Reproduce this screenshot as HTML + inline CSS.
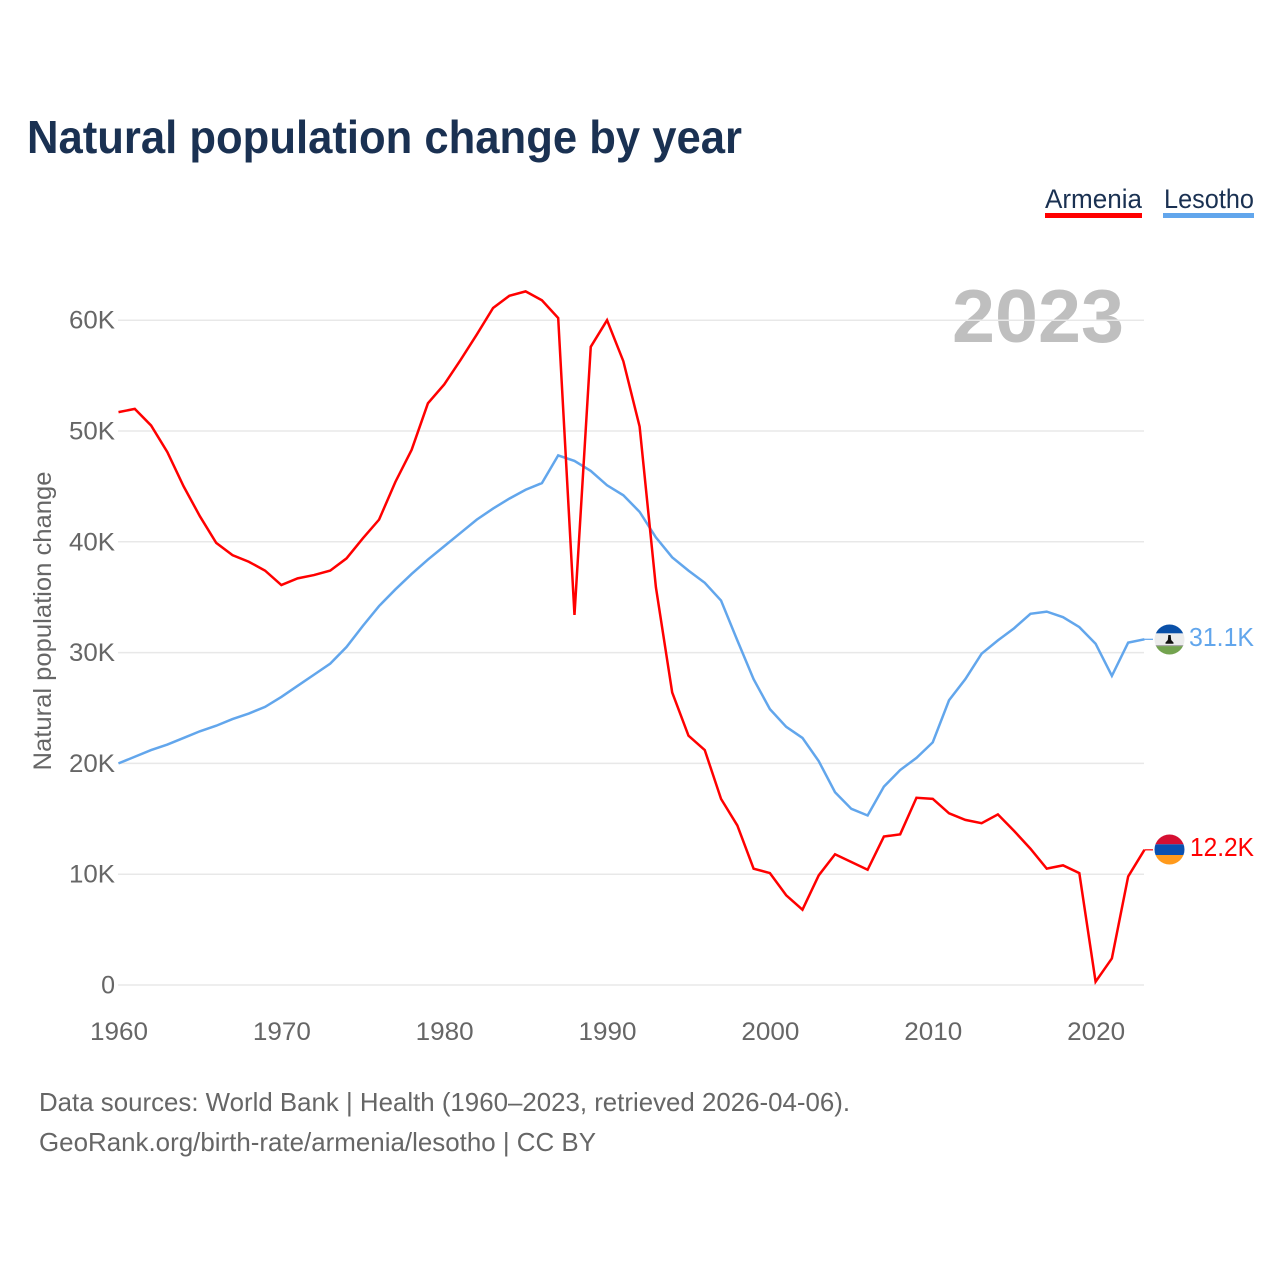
<!DOCTYPE html>
<html lang="en">
<head>
<meta charset="utf-8">
<title>Natural population change by year</title>
<style>
html,body{margin:0;padding:0;background:#fff;width:1280px;height:1280px;overflow:hidden}
svg{display:block;font-family:"Liberation Sans",sans-serif}
</style>
</head>
<body>
<svg id="chart" xmlns="http://www.w3.org/2000/svg" width="1280" height="1280" viewBox="0 0 1280 1280">
  <defs>
    <clipPath id="clip-am"><circle cx="1169.5" cy="849.5" r="15"/></clipPath>
    <clipPath id="clip-ls"><circle cx="1169.5" cy="639.5" r="15"/></clipPath>
  </defs>
  <text x="27" y="153" font-size="46" font-weight="700" fill="#1a3152" textLength="715" lengthAdjust="spacingAndGlyphs">Natural population change by year</text>

  <g>
    <g>
      <text x="1045" y="208" font-size="27" fill="#1a3152" textLength="97" lengthAdjust="spacingAndGlyphs">Armenia</text>
      <rect x="1045" y="213" width="97" height="5" fill="#ff0000"/>
    </g>
    <g>
      <text x="1164" y="208" font-size="27" fill="#1a3152" textLength="90" lengthAdjust="spacingAndGlyphs">Lesotho</text>
      <rect x="1163" y="213" width="91" height="5" fill="#62a6ec"/>
    </g>
  </g>

  <text x="1124" y="342" font-size="75" font-weight="700" fill="#bfbfbf" text-anchor="end" textLength="172" lengthAdjust="spacingAndGlyphs">2023</text>

  <text transform="translate(51 621) rotate(-90)" font-size="25" fill="#666" text-anchor="middle" textLength="299" lengthAdjust="spacingAndGlyphs">Natural population change</text>

  <g id="grid"></g>
  <g id="yticks"></g>
  <g id="xticks"></g>
  <g id="series"></g>

  <g id="end-ls">
    <g clip-path="url(#clip-ls)">
      <rect x="1154" y="624" width="31" height="31" fill="#ececec"/>
      <rect x="1154" y="624" width="31" height="9.300" fill="#0a50a8"/>
      <rect x="1154" y="646" width="31" height="10" fill="#73a34f"/>
      <rect x="1154" y="645" width="31" height="1.2" fill="#a8a8a8"/>
      <path d="M1168.3 635h2.400l0.500 5 2.300 2.500v1.300h-8v-1.300l2.300-2.500z" fill="#111"/>
    </g>
  </g>
  <g id="end-am">
    <g clip-path="url(#clip-am)">
      <rect x="1154" y="834" width="31" height="10.300" fill="#d50f32"/>
      <rect x="1154" y="844.300" width="31" height="10.700" fill="#0a50b0"/>
      <rect x="1154" y="855" width="31" height="10" fill="#ff9a1c"/>
    </g>
  </g>
  <text x="1189" y="646" font-size="26" fill="#62a6ec" textLength="65" lengthAdjust="spacingAndGlyphs">31.1K</text>
  <text x="1190" y="856" font-size="26" fill="#ff0000" textLength="64" lengthAdjust="spacingAndGlyphs">12.2K</text>

  <text x="39" y="1111" font-size="26" fill="#666" textLength="811" lengthAdjust="spacingAndGlyphs">Data sources: World Bank | Health (1960–2023, retrieved 2026-04-06).</text>
  <text x="39" y="1151" font-size="26" fill="#666" textLength="557" lengthAdjust="spacingAndGlyphs">GeoRank.org/birth-rate/armenia/lesotho | CC BY</text>
</svg>
<script>
const startYear = 1960;
const armenia = [51.7,52.0,50.5,48.1,45.0,42.3,39.9,38.8,38.2,37.4,36.1,36.7,37.0,37.4,38.5,40.3,42.0,45.4,48.3,52.5,54.2,56.4,58.7,61.1,62.2,62.6,61.8,60.2,33.4,57.6,60.0,56.3,50.4,35.9,26.4,22.5,21.2,16.8,14.4,10.5,10.1,8.1,6.8,9.9,11.8,11.1,10.4,13.4,13.6,16.9,16.8,15.5,14.9,14.6,15.4,13.9,12.3,10.5,10.8,10.1,0.3,2.4,9.8,12.2];
const lesotho = [20.0,20.6,21.2,21.7,22.3,22.9,23.4,24.0,24.5,25.1,26.0,27.0,28.0,29.0,30.5,32.4,34.2,35.7,37.1,38.4,39.6,40.8,42.0,43.0,43.9,44.7,45.3,47.8,47.3,46.4,45.1,44.2,42.7,40.4,38.6,37.4,36.3,34.7,31.1,27.6,24.9,23.3,22.3,20.2,17.4,15.9,15.3,17.9,19.4,20.5,21.9,25.7,27.6,29.9,31.1,32.2,33.5,33.7,33.2,32.3,30.8,27.9,30.9,31.2];
const yTickValues = [0,10,20,30,40,50,60];
const yTickLabels = ['0','10K','20K','30K','40K','50K','60K'];
const xTickYears = [1960,1970,1980,1990,2000,2010,2020];

const NS = 'http://www.w3.org/2000/svg';
function xScale(year){ return 118.5 + (year - 1960) * 16.285; }
function yScale(v){ return 985 - v * 11.08; }
function make(tag, parent, attrs){
  const el = document.createElementNS(NS, tag);
  for (const k in attrs) el.setAttribute(k, attrs[k]);
  parent.appendChild(el);
  return el;
}

const grid = document.getElementById('grid');
const yticks = document.getElementById('yticks');
yTickValues.forEach(function(v, i){
  const line = make('line', grid, {x1:118, x2:1144, y1:yScale(v), y2:yScale(v), stroke:'#e8e8e8', 'stroke-width':1.5});
  
  
  const label = make('text', yticks, {x:115, y:yScale(v) + 8.5, 'font-size':25, fill:'#666', 'text-anchor':'end'});
  
  
  label.textContent = yTickLabels[i];
  if (yTickLabels[i].length > 1) { label.setAttribute('textLength', 46); label.setAttribute('lengthAdjust', 'spacingAndGlyphs'); }
});

const xticks = document.getElementById('xticks');
xTickYears.forEach(function(y){
  const label = make('text', xticks, {x:xScale(y) + 0.5, y:1040, 'font-size':25, fill:'#666', 'text-anchor':'middle', textLength:58, lengthAdjust:'spacingAndGlyphs'});
  
  
  label.textContent = y;
});

function pathFor(values){
  return values.map(function(v, i){
    return (i ? 'L' : 'M') + xScale(startYear + i).toFixed(2) + ' ' + yScale(v).toFixed(2);
  }).join('');
}
const seriesGroup = document.getElementById('series');
const lesothoLine = make('path', seriesGroup, {d:pathFor(lesotho), fill:'none', stroke:'#62a6ec', 'stroke-width':2.5, 'stroke-linejoin':'miter'});


const armeniaLine = make('path', seriesGroup, {d:pathFor(armenia), fill:'none', stroke:'#ff0000', 'stroke-width':2.5, 'stroke-linejoin':'miter'});



const lastYear = startYear + armenia.length - 1;
const lastLesothoY = yScale(lesotho[lesotho.length - 1]);
const lastArmeniaY = yScale(armenia[armenia.length - 1]);
const leaderLs = make('line', seriesGroup, {x1:xScale(lastYear), y1:lastLesothoY, x2:1153, y2:lastLesothoY, stroke:'#62a6ec', 'stroke-width':1.2});


const leaderAm = make('line', seriesGroup, {x1:xScale(lastYear), y1:lastArmeniaY, x2:1153, y2:lastArmeniaY, stroke:'#ff0000', 'stroke-width':1.2});


</script>
</body>
</html>
